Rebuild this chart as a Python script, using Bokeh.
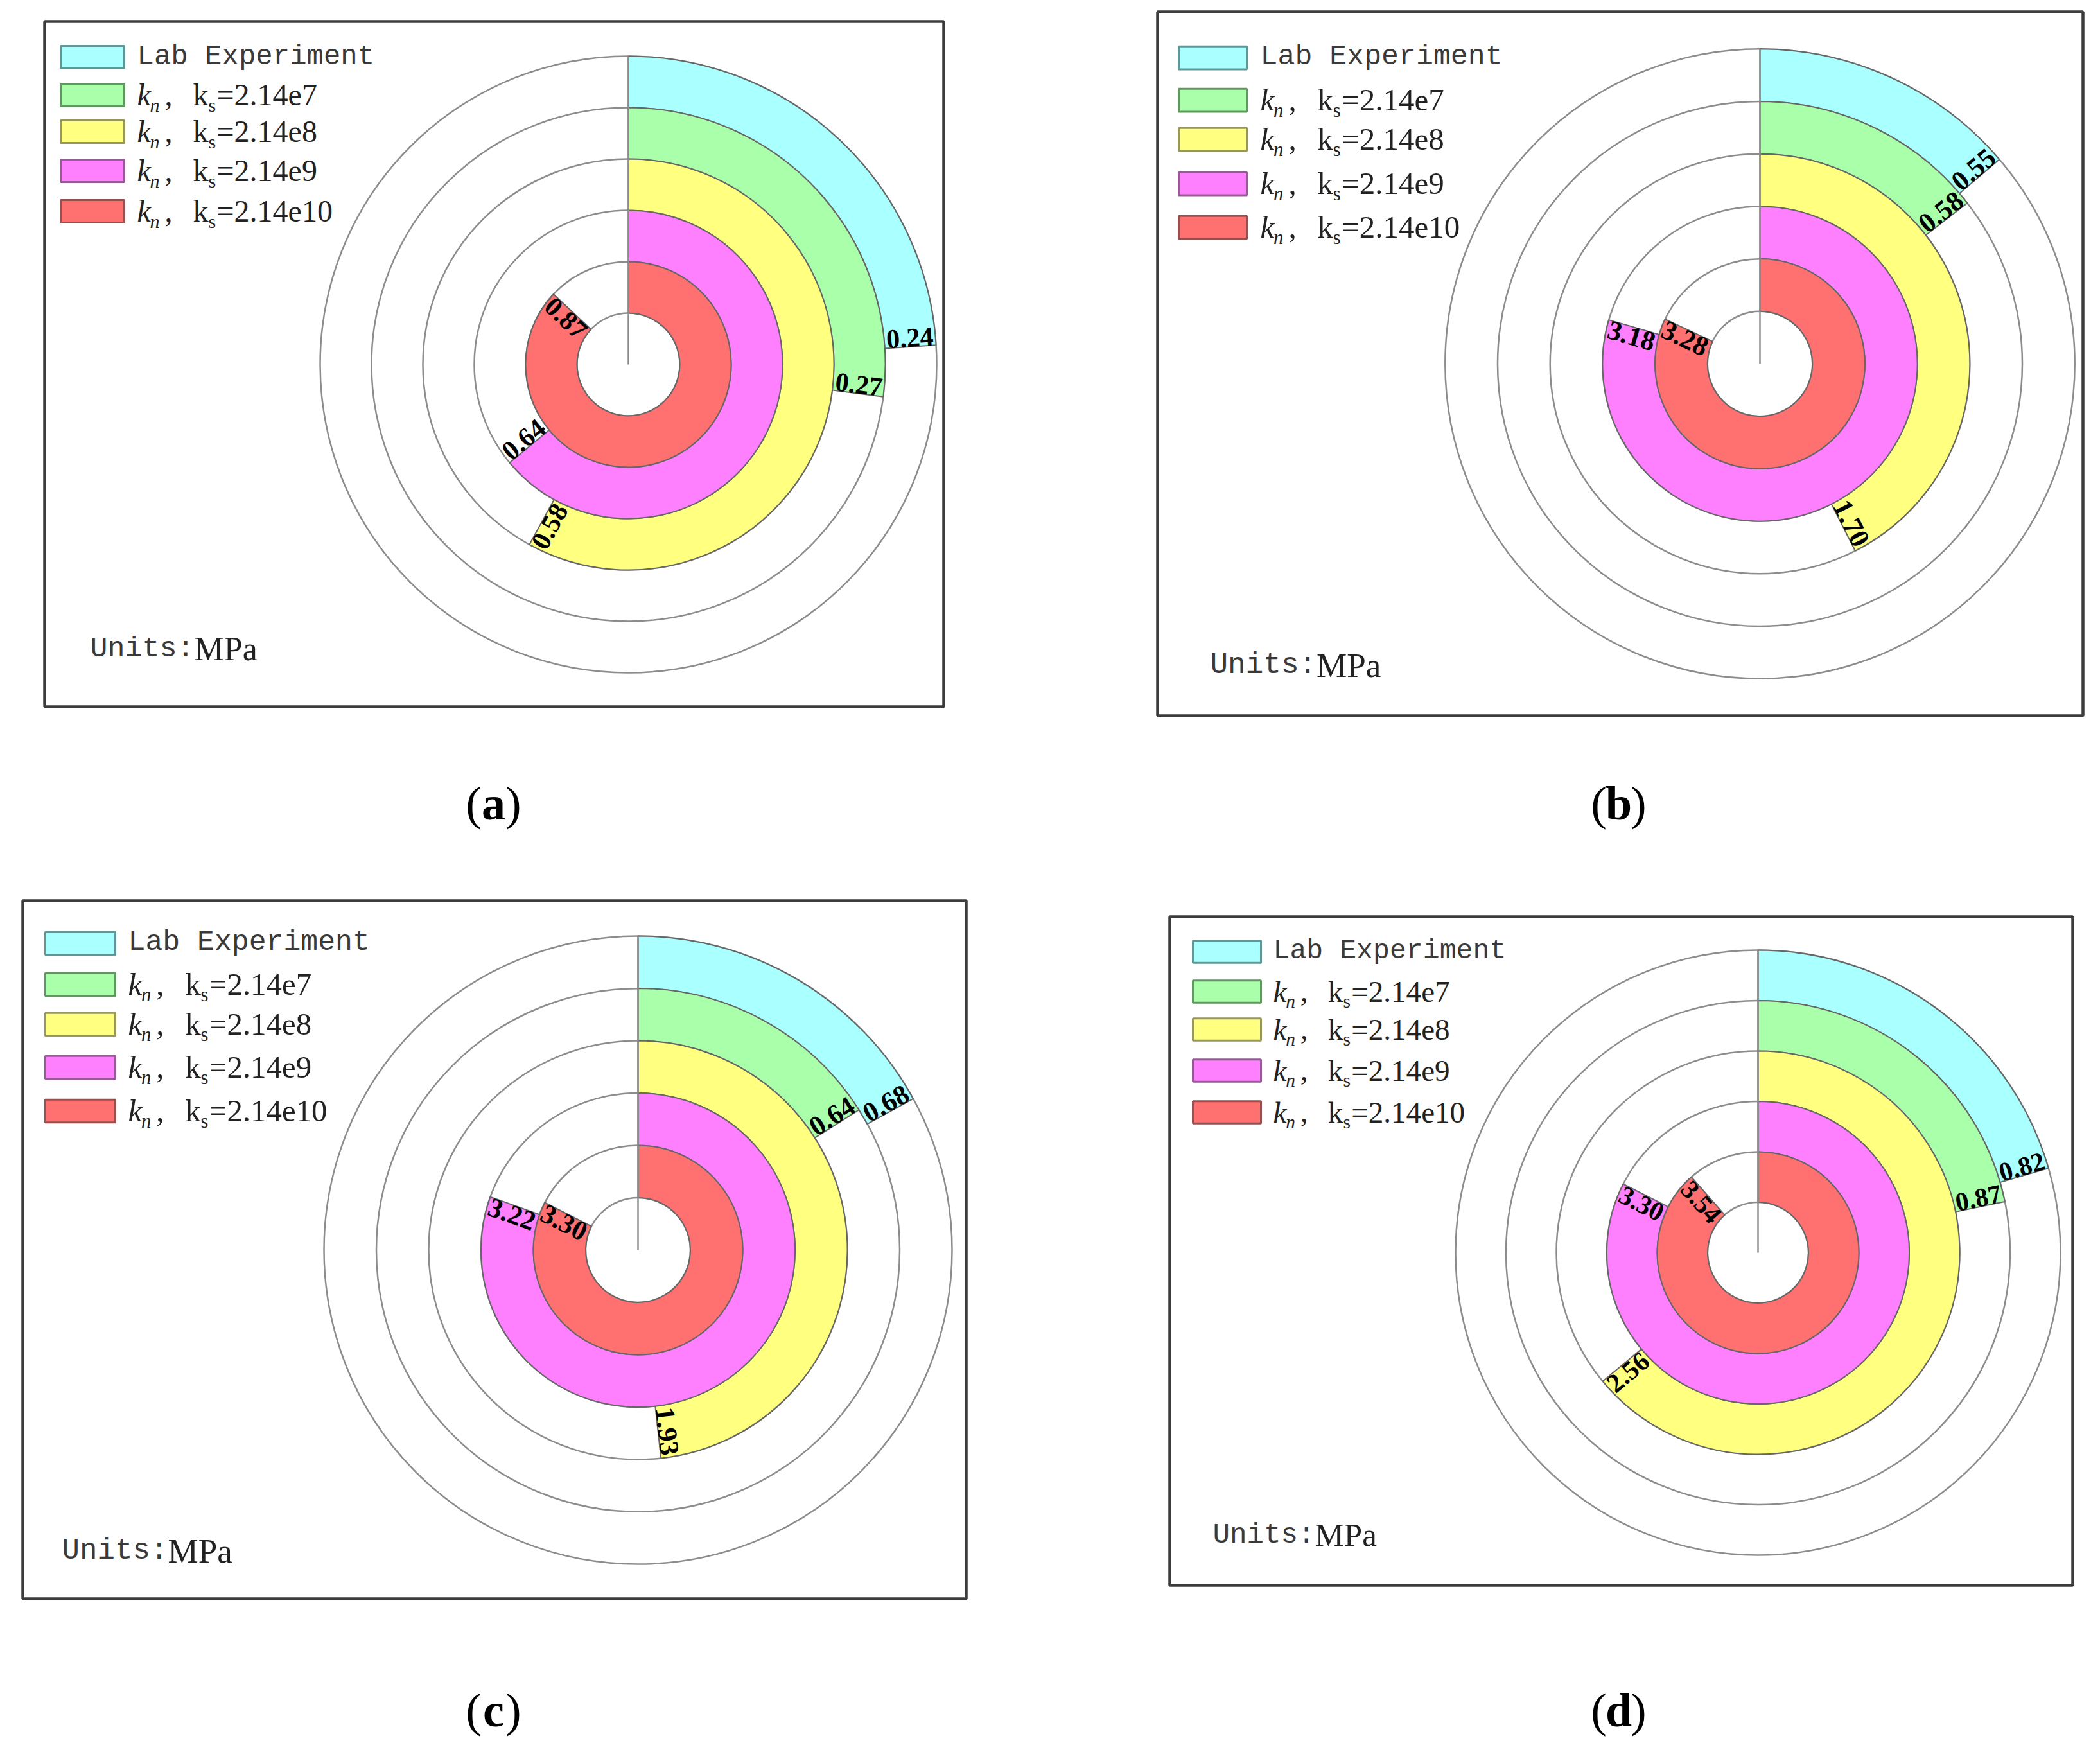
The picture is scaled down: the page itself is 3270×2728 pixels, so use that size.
import math
from bokeh.plotting import figure
from bokeh.models import Range1d
from bokeh.core.properties import value
from bokeh.embed import file_html
from bokeh.resources import INLINE

# ---------------- data ----------------
panel_ids = ["a", "b", "c", "d"]
series_names = ["Lab Experiment", "k_n, k_s=2.14e7", "k_n, k_s=2.14e8",
                "k_n, k_s=2.14e9", "k_n, k_s=2.14e10"]
ks_labels = ["2.14e7", "2.14e8", "2.14e9", "2.14e10"]
values_a = [0.24, 0.27, 0.58, 0.64, 0.87]
values_b = [0.55, 0.58, 1.70, 3.18, 3.28]
values_c = [0.68, 0.64, 1.93, 3.22, 3.30]
values_d = [0.82, 0.87, 2.56, 3.30, 3.54]
full_turn = [1.0, 4.0, 4.0, 4.0]      # value corresponding to one complete circle
units_label = ["Units:", "MPa"]
caption_letters = ["a", "b", "c", "d"]

colors = ["#AAFFFF", "#AAFFAA", "#FFFF80", "#FF80FF", "#FF7070"]
edge_colors = ["#5f9797", "#5f975f", "#97975a", "#975a97", "#975050"]

all_values = {"a": values_a, "b": values_b, "c": values_c, "d": values_d}
outside_labels = {("a", 3)}

# --------------- layout (reference pixel coordinates) ---------------
PANELS = {
    "a": dict(frame=(69, 33, 1469, 1100), c=(978, 567), u=80.0, sw=(94, 193),
              rows=[88, 147, 204, 265, 328], tx=213, units=(140, 1010), cap=(768, 1250)),
    "b": dict(frame=(1802, 18, 3243, 1114), c=(2740, 566), u=81.7, sw=(1835, 1941),
              rows=[89, 155, 216, 285, 353], tx=1962, units=(1884, 1035), cap=(2520, 1250)),
    "c": dict(frame=(35, 1402, 1504, 2489), c=(993, 1946), u=81.5, sw=(70, 179),
              rows=[1468, 1532, 1594, 1661, 1729], tx=199, units=(96, 2414), cap=(768, 2662)),
    "d": dict(frame=(1821, 1427, 3227, 2468), c=(2737, 1950), u=78.5, sw=(1857, 1963),
              rows=[1481, 1543, 1602, 1666, 1731], tx=1982, units=(1888, 2389), cap=(2520, 2662)),
}

W, H = 3254, 2712


def X(rx):
    return rx


def Y(ry):
    return H - ry


p = figure(width=W, height=H, x_range=Range1d(0, W), y_range=Range1d(0, H),
           output_backend="svg", toolbar_location=None, min_border=0,
           x_axis_location=None, y_axis_location=None)
p.grid.visible = False
p.outline_line_color = None
p.background_fill_color = "white"
p.border_fill_color = "white"

SERIF = value("Liberation Serif")
MONO = value("Liberation Mono")
GRID = "#8c8c8c"
TXT = "#222222"

for k, pid in enumerate(panel_ids):
    L = PANELS[pid]
    vals = all_values[pid]
    u = L["u"]
    s = u / 80.0
    cx, cy = X(L["c"][0]), Y(L["c"][1])

    # frame
    fl, ft, fr, fb = L["frame"]
    p.quad(left=[X(fl)], right=[X(fr)], top=[Y(ft)], bottom=[Y(fb)],
           fill_color=None, line_color="#3c3c3c", line_width=4.5)

    # grid circles
    p.circle(x=[cx] * 6, y=[cy] * 6, radius=[j * u for j in range(1, 7)],
             fill_color=None, line_color=GRID, line_width=2.5)

    # wedges (series 0 outermost)
    inner = [(5 - i) * u for i in range(5)]
    outer = [(6 - i) * u for i in range(5)]
    ends = [math.pi / 2 - 2 * math.pi * v / full_turn[k] for v in vals]
    p.annular_wedge(x=[cx] * 5, y=[cy] * 5, inner_radius=inner, outer_radius=outer,
                    start_angle=[math.pi / 2] * 5, end_angle=ends, direction="clock",
                    fill_color=colors, line_color="#666666", line_width=2)

    # vertical reference line
    p.segment(x0=[cx], y0=[cy], x1=[cx], y1=[cy + 6 * u], line_color=GRID, line_width=2.5)

    # value labels
    for i, v in enumerate(vals):
        te = ends[i]
        rm = (5.5 - i) * u
        ax, ay = cx + rm * math.cos(te), cy + rm * math.sin(te)
        if math.cos(te) >= -1e-9:
            rot, base = te, "bottom"
        else:
            rot, base = te + math.pi, "top"
        if (pid, i) in outside_labels:
            base = "top" if base == "bottom" else "bottom"
        p.text(x=[ax], y=[ay], text=[f"{v:.2f}"], angle=[rot],
               text_font=SERIF, text_font_style="bold", text_font_size=f"{42 * s:.1f}px",
               text_align="center", text_baseline=base, text_color="black")

    # legend swatches
    sx0, sx1 = L["sw"]
    rows = L["rows"]
    p.quad(left=[X(sx0)] * 5, right=[X(sx1)] * 5,
           top=[Y(r - 17 * s) for r in rows], bottom=[Y(r + 18 * s) for r in rows],
           fill_color=colors, line_color=edge_colors, line_width=3)

    tx = L["tx"]
    # legend text row 0
    p.text(x=[X(tx)], y=[Y(rows[0] - 1 * s)], text=[series_names[0]],
           text_font=MONO, text_font_size=f"{44 * s:.1f}px", text_color="#3a3a3a",
           text_align="left", text_baseline="middle")
    # legend rows 1..4 composed: k_n, k_s=...
    main_y = [Y(r) for r in rows[1:]]
    sub_y = [Y(r + 16 * s) for r in rows[1:]]
    p.text(x=[X(tx)] * 4, y=main_y, text=["k"] * 4, text_font=SERIF,
           text_font_style="italic", text_font_size=f"{48 * s:.1f}px", text_color=TXT,
           text_align="left", text_baseline="middle")
    p.text(x=[X(tx + 20 * s)] * 4, y=sub_y, text=["n"] * 4, text_font=SERIF,
           text_font_style="italic", text_font_size=f"{30 * s:.1f}px", text_color=TXT,
           text_align="left", text_baseline="middle")
    p.text(x=[X(tx + 43 * s)] * 4, y=main_y, text=[","] * 4, text_font=SERIF,
           text_font_size=f"{48 * s:.1f}px", text_color=TXT,
           text_align="left", text_baseline="middle")
    p.text(x=[X(tx + 87 * s)] * 4, y=main_y, text=["k"] * 4, text_font=SERIF,
           text_font_size=f"{48 * s:.1f}px", text_color=TXT,
           text_align="left", text_baseline="middle")
    p.text(x=[X(tx + 111 * s)] * 4, y=sub_y, text=["s"] * 4, text_font=SERIF,
           text_font_size=f"{30 * s:.1f}px", text_color=TXT,
           text_align="left", text_baseline="middle")
    p.text(x=[X(tx + 124 * s)] * 4, y=main_y, text=["=" + t for t in ks_labels], text_font=SERIF,
           text_font_size=f"{48 * s:.1f}px", text_color=TXT,
           text_align="left", text_baseline="middle")

    # units
    ux, uy = L["units"]
    p.text(x=[X(ux)], y=[Y(uy)], text=[units_label[0]], text_font=MONO,
           text_font_size=f"{45 * s:.1f}px", text_color="#3a3a3a",
           text_align="left", text_baseline="middle")
    p.text(x=[X(ux + 6 * 0.6 * 45 * s)], y=[Y(uy)], text=[units_label[1]], text_font=SERIF,
           text_font_size=f"{52 * s:.1f}px", text_color=TXT,
           text_align="left", text_baseline="middle")

    # caption (a)...(d)
    capx, capy = L["cap"]
    fs = 74
    p.text(x=[X(capx - 0.25 * fs)], y=[Y(capy)], text=["("], text_font=SERIF,
           text_font_size=f"{fs}px", text_color="black", text_align="right",
           text_baseline="alphabetic")
    p.text(x=[X(capx)], y=[Y(capy)], text=[caption_letters[k]], text_font=SERIF,
           text_font_style="bold", text_font_size=f"{fs}px", text_color="black",
           text_align="center", text_baseline="alphabetic")
    p.text(x=[X(capx + 0.25 * fs)], y=[Y(capy)], text=[")"], text_font=SERIF,
           text_font_size=f"{fs}px", text_color="black", text_align="left",
           text_baseline="alphabetic")

open("out.html", "w").write(file_html(p, INLINE))
